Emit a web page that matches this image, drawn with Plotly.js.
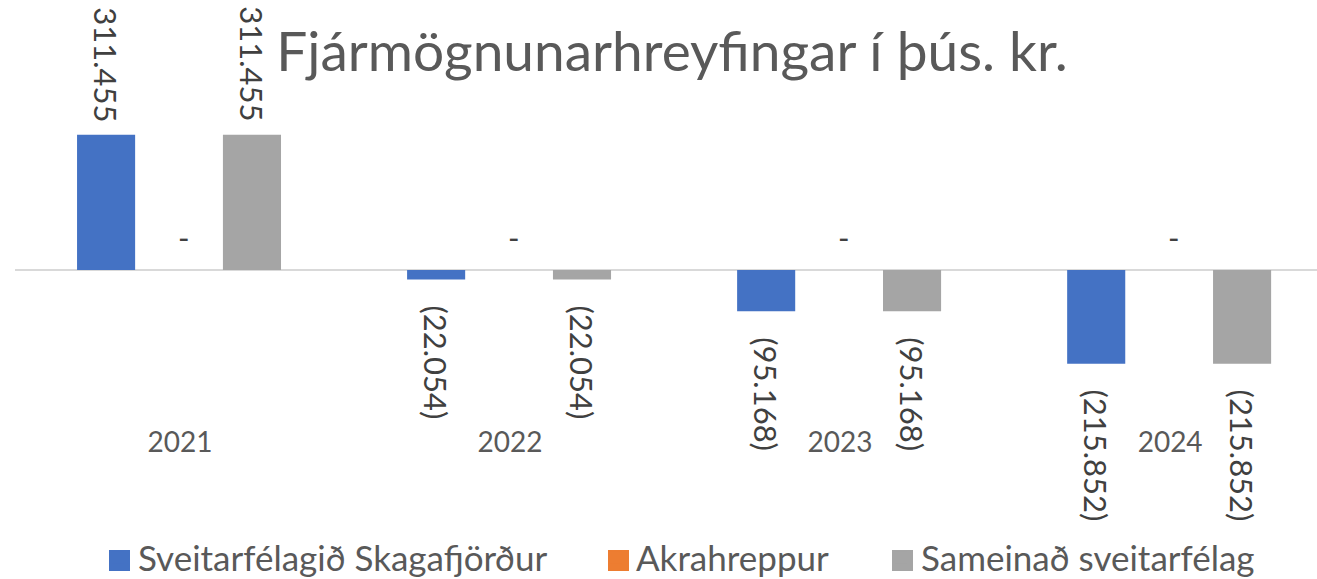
<!DOCTYPE html>
<html>
<head>
<meta charset="utf-8">
<script src="https://cdn.plot.ly/plotly-3.0.1.min.js"></script>
<style>
  html, body { margin: 0; padding: 0; background: #ffffff; }
  #chart { width: 1317px; height: 579px; }
</style>
</head>
<body>
<div id="chart"></div>
<script>
// ---- data ----
const years = ['2021', '2022', '2023', '2024'];
const skagafjordur = [311455, -22054, -95168, -215852];
const akrahreppur = [0, 0, 0, 0];
const sameinad = [311455, -22054, -95168, -215852];
const seriesNames = ['Sveitarfélagið Skagafjörður', 'Akrahreppur', 'Sameinað sveitarfélag'];
const chartTitle = 'Fjármögnunarhreyfingar í þús. kr.';

// ---- style ----
const colors = ['#4472C4', '#ED7D31', '#A5A5A5'];
const barWidth = 0.176;
const offsets = [-0.312, -0.088, 0.130];
const FONT = 'Lato, "Open Sans", sans-serif';

function fmt(v) {
  if (v === 0) return '-';
  const s = Math.abs(v).toString().replace(/\B(?=(\d{3})+(?!\d))/g, '.');
  return v < 0 ? '(' + s + ')' : s;
}

const seriesValues = [skagafjordur, akrahreppur, sameinad];
const legendIds = ['legend', 'legend2', 'legend3'];

const traces = seriesValues.map((vals, k) => ({
  type: 'bar',
  name: seriesNames[k],
  x: years,
  y: vals,
  width: barWidth,
  offset: offsets[k],
  marker: { color: colors[k], line: { width: 0 } },
  legend: legendIds[k],
  hoverinfo: 'x+y+name'
}));

const annotations = [];
seriesValues.forEach((vals, k) => {
  vals.forEach((v, i) => {
    const xc = i + offsets[k] + barWidth / 2;
    if (v === 0) {
      annotations.push({
        x: xc, y: v, xref: 'x', yref: 'y', text: fmt(v), showarrow: false,
        xanchor: 'center', yanchor: 'middle', yshift: 33, xshift: 4,
        font: { family: FONT, size: 31, color: '#404040' }
      });
    } else {
      annotations.push({
        x: xc, y: v, xref: 'x', yref: 'y', text: fmt(v), showarrow: false,
        textangle: 90,
        xanchor: 'center', yanchor: v > 0 ? 'bottom' : 'top',
        yshift: v > 0 ? 11 : -24,
        font: { family: FONT, size: 31, color: '#404040' }
      });
    }
  });
});

const plotH = 420;
function px2paperX(px) { return (px - 15) / 1302; }
function px2paperY(py) { return (plotH - py) / plotH; }

// larger legend swatches (drawn under the legend's own symbols, same colour)
const swatchLeft = [109, 608, 892];
const shapes = swatchLeft.map((x0, k) => ({
  type: 'rect', xref: 'paper', yref: 'paper', layer: 'above',
  x0: px2paperX(x0), x1: px2paperX(x0 + 21),
  y0: px2paperY(571), y1: px2paperY(550),
  fillcolor: colors[k], line: { width: 0 }
}));

const legendBase = {
  orientation: 'h', yanchor: 'middle', xanchor: 'left',
  xref: 'container', yref: 'container', y: 1 - 558 / 579,
  font: { family: FONT, size: 35, color: '#595959' },
  bgcolor: 'rgba(0,0,0,0)', borderwidth: 0
};

const layout = {
  width: 1317, height: 579,
  margin: { l: 15, r: 0, t: 0, b: 579 - plotH, pad: 0 },
  paper_bgcolor: '#ffffff', plot_bgcolor: '#ffffff',
  barmode: 'overlay',
  showlegend: true,
  title: {
    text: chartTitle,
    font: { family: FONT, size: 55, color: '#595959' },
    x: 672 / 1317, xanchor: 'center', xref: 'container',
    y: 1 - 52 / 579, yanchor: 'middle', yref: 'container'
  },
  xaxis: {
    type: 'category', range: [-0.5, 3.445],
    showgrid: false, showline: false, zeroline: false, ticks: '',
    ticklabelstandoff: 3,
    tickfont: { family: FONT, size: 28, color: '#595959' }
  },
  yaxis: {
    range: [-345600, 622000],
    showgrid: false, showticklabels: false, ticks: '', showline: false,
    zeroline: true, zerolinecolor: '#D9D9D9', zerolinewidth: 2
  },
  legend: Object.assign({}, legendBase, { x: 98 / 1317 }),
  legend2: Object.assign({}, legendBase, { x: 596 / 1317 }),
  legend3: Object.assign({}, legendBase, { x: 881 / 1317 }),
  shapes: shapes,
  annotations: annotations
};

Plotly.newPlot('chart', traces, layout, { displayModeBar: false, staticPlot: true });
</script>
</body>
</html>
